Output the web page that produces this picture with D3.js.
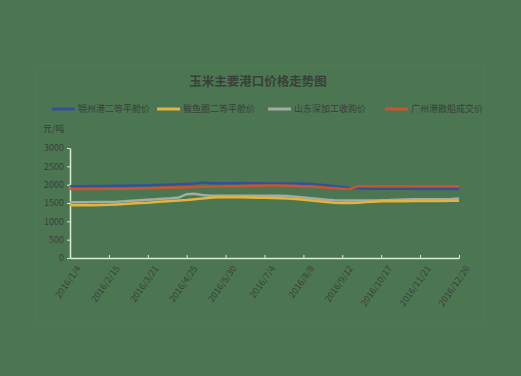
<!DOCTYPE html>
<html>
<head>
<meta charset="utf-8">
<script src="https://cdn.jsdelivr.net/npm/d3@7"></script>
<style>
  body { margin: 0; background: #4b7651; }
  text { font-family: "Noto Sans CJK SC", "DejaVu Sans", sans-serif; }
</style>
</head>
<body>
<div class="container"></div>
<script>
const wd = 521
const ht = 376

// tick labels, one every 5 weeks
const tickLabels = ["2016/1/4","2016/2/15","2016/3/21","2016/4/25","2016/5/30","2016/7/4",
  "2016/8/8","2016/9/12","2016/10/17","2016/11/21","2016/12/26"]
const seriesNames = ["锦州港二等平舱价", "鲅鱼圈二等平舱价", "山东深加工收购价", "广州港散船成交价"]
const seriesColors = ["#34509a", "#e2b43c", "#a3aba3", "#c9552f"]

const blue = [1960,1960,1960,1965,1965,1965,1970,1970,1975,1980,1985,1990,1995,2000,2010,2020,2030,2060,2040,2040,
  2040,2040,2045,2040,2040,2035,2035,2030,2030,2030,2025,2015,2000,1985,1960,1940,1910,1900,1895,1890,
  1890,1890,1890,1890,1890,1885,1885,1885,1880,1880,1880]
const yellow = [1440,1440,1440,1440,1445,1450,1460,1470,1485,1500,1510,1525,1540,1555,1570,1585,1605,1625,1645,1655,
  1660,1660,1655,1650,1645,1640,1635,1630,1625,1610,1590,1570,1550,1530,1510,1500,1500,1510,1525,1535,
  1545,1550,1550,1550,1555,1555,1555,1555,1555,1560,1560]
const gray = [1520,1520,1520,1525,1525,1530,1535,1545,1560,1575,1590,1600,1615,1630,1650,1740,1750,1720,1700,1700,
  1700,1700,1700,1700,1700,1700,1700,1695,1690,1670,1650,1630,1610,1590,1575,1570,1565,1565,1570,1570,
  1575,1580,1590,1595,1600,1600,1600,1600,1605,1610,1620]
const red = [1880,1880,1885,1885,1885,1890,1890,1890,1895,1900,1905,1910,1915,1920,1925,1930,1935,1940,1945,1950,
  1955,1960,1965,1970,1970,1975,1975,1975,1970,1965,1960,1950,1935,1915,1900,1890,1885,1960,1960,1960,
  1960,1960,1960,1960,1960,1960,1960,1960,1960,1960,1960]
const yTicks = [0, 500, 1000, 1500, 2000, 2500, 3000]

const allSeries = [blue, yellow, gray, red]
const textCol = "#3a3f3a"

const svg = d3.select(".container").append("svg")
  .attr("width", wd)
  .attr("height", ht)

// faint chart frame
svg.append("rect")
  .attr("x", 37).attr("y", 65).attr("width", 448).attr("height", 257)
  .attr("fill", "none").attr("stroke", "#4f7a55").attr("stroke-width", 1)

const x = d3.scaleLinear().domain([0, blue.length - 1]).range([70, 459])
const y = d3.scaleLinear().domain([0, 3000]).range([258, 148])

// title
svg.append("text")
  .attr("x", 258).attr("y", 86)
  .attr("text-anchor", "middle")
  .attr("font-size", 12.5).attr("font-weight", "bold")
  .attr("fill", textCol)
  .text("玉米主要港口价格走势图")

// legend
const legX = [52, 157, 268, 385]
seriesNames.forEach((nm, i) => {
  svg.append("line")
    .attr("x1", legX[i]).attr("x2", legX[i] + 23)
    .attr("y1", 109).attr("y2", 109)
    .attr("stroke", seriesColors[i]).attr("stroke-width", 3)
  svg.append("text")
    .attr("x", legX[i] + 26).attr("y", 112)
    .attr("font-size", 9).attr("fill", textCol)
    .text(nm)
})

// unit
svg.append("text")
  .attr("x", 43).attr("y", 132)
  .attr("font-size", 9).attr("fill", textCol)
  .text("元/吨")

// y axis
const yAxis = svg.append("g")
  .attr("transform", "translate(70,0)")
  .call(d3.axisLeft(y).tickValues(yTicks).tickFormat(d3.format("d")).tickSize(3).tickSizeOuter(0))
yAxis.select(".domain").attr("stroke", "#d9f0d8").attr("stroke-width", 1.5)
yAxis.selectAll(".tick line").attr("stroke", "#d9f0d8")
yAxis.selectAll(".tick text").attr("fill", textCol).attr("font-size", 9)

// x axis
const xAxis = svg.append("g")
  .attr("transform", "translate(0,258)")
  .call(d3.axisBottom(x)
    .tickValues(d3.range(0, blue.length, 5))
    .tickFormat((d, i) => tickLabels[i])
    .tickSize(-3).tickSizeOuter(0))
xAxis.select(".domain").attr("stroke", "#d9f0d8").attr("stroke-width", 1.5)
xAxis.selectAll(".tick line").attr("stroke", "#d9f0d8")
xAxis.selectAll(".tick text")
  .attr("fill", textCol).attr("font-size", 9)
  .attr("text-anchor", "end")
  .attr("transform", "translate(3,5) rotate(-55)")

const lineFunc = d3.line()
  .x((d, i) => x(i))
  .y(d => y(d))
  .curve(d3.curveLinear)

// draw gray/yellow first, then blue, red on top
const order = [2, 1, 0, 3]
svg.append("g").selectAll("path")
  .data(order)
  .enter()
  .append("path")
  .attr("d", i => lineFunc(allSeries[i]))
  .attr("fill", "none")
  .attr("stroke", i => seriesColors[i])
  .attr("stroke-width", 2.5)
</script>
</body>
</html>
